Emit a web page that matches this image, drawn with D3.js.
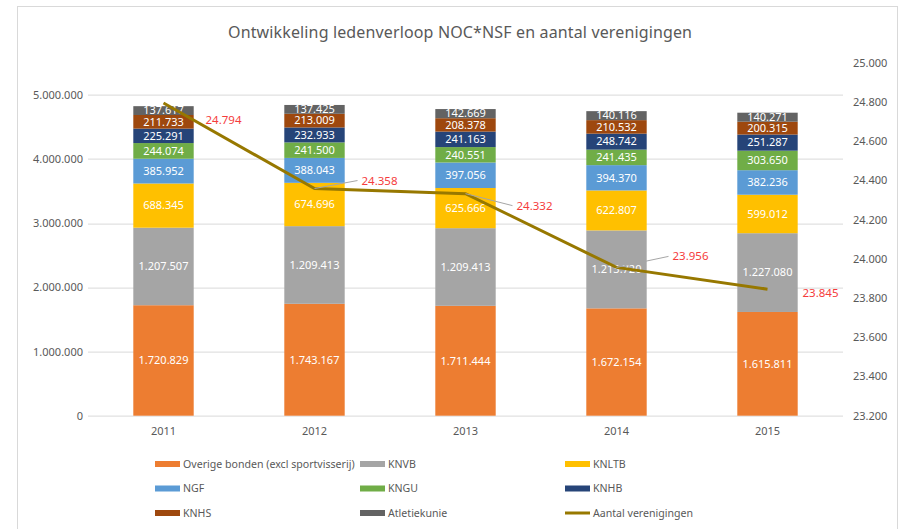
<!DOCTYPE html>
<html>
<head>
<meta charset="utf-8">
<script src="https://cdn.jsdelivr.net/npm/d3@7"></script>
<style>
  body { margin: 0; background: #fff; }
  svg text { font-family: "Noto Sans", "Open Sans", sans-serif; }
</style>
</head>
<body>
<div class="svg-container"></div>
<script>
// Data
const years = ['2011', '2012', '2013', '2014', '2015'];
const seriesNames = ['Overige bonden (excl sportvisserij)', 'KNVB', 'KNLTB', 'NGF', 'KNGU', 'KNHB', 'KNHS', 'Atletiekunie'];
const overige = [1720829, 1743167, 1711444, 1672154, 1615811];
const knvb = [1207507, 1209413, 1209413, 1213720, 1227080];
const knltb = [688345, 674696, 625666, 622807, 599012];
const ngf = [385952, 388043, 397056, 394370, 382236];
const kngu = [244074, 241500, 240551, 241435, 303650];
const knhb = [225291, 232933, 241163, 248742, 251287];
const knhs = [211733, 213009, 208378, 210532, 200315];
const atletiek = [137617, 137425, 142669, 140116, 140271];
const verenigingen = [24794, 24358, 24332, 23956, 23845];
const leftTicks = [0, 1000000, 2000000, 3000000, 4000000, 5000000];
const rightTicks = [23200, 23400, 23600, 23800, 24000, 24200, 24400, 24600, 24800, 25000];

// Styling
const colors = ['#ED7D31', '#A5A5A5', '#FFC000', '#5B9BD5', '#70AD47', '#264478', '#9E480E', '#636363'];
const lineColor = '#977800';
const textColor = '#595959';
// where the red value labels sit relative to their point [dx, dy, leader?]
const labelOffsets = [[42, 17, false], [47, -8, true], [51, 12, true], [56, -11, true], [35, 4, false]];

const nl = d3.formatLocale({decimal: ',', thousands: '.', grouping: [3], currency: ['€', '']});
const fmt = nl.format(',');

const allSeries = [overige, knvb, knltb, ngf, kngu, knhb, knhs, atletiek];
const table = years.map((y, i) => {
    const row = {year: y};
    seriesNames.forEach((s, k) => row[s] = allSeries[k][i]);
    return row;
});

const W = 899, H = 529;
const margin = {top: 62.6, right: 56, bottom: 113.3, left: 88};
const width = W - margin.left - margin.right;
const height = H - margin.top - margin.bottom;

const svg = d3.select('.svg-container').append('svg')
    .attr('width', W).attr('height', H);

// frame
svg.append('rect')
    .attr('x', 17.5).attr('y', 6.5).attr('width', 880).attr('height', 540)
    .attr('fill', 'none').attr('stroke', '#d9d9d9');

svg.append('text')
    .attr('x', 460).attr('y', 38)
    .attr('text-anchor', 'middle')
    .attr('font-size', 16)
    .attr('textLength', 464)
    .attr('fill', textColor)
    .text('Ontwikkeling ledenverloop NOC*NSF en aantal verenigingen');

const g = svg.append('g').attr('transform', `translate(${margin.left},${margin.top})`);

const xScale = d3.scaleBand().domain(years).range([0, width]).paddingInner(0.6).paddingOuter(0.3);
const yLeft = d3.scaleLinear().domain([0, 5500000]).range([height, 0]);
const yRight = d3.scaleLinear().domain([23200, 25000]).range([height, 0]);

// gridlines
g.append('g').selectAll('line').data(leftTicks).join('line')
    .attr('x1', 0).attr('x2', width)
    .attr('y1', d => Math.round(yLeft(d)) + 0.5).attr('y2', d => Math.round(yLeft(d)) + 0.5)
    .attr('stroke', '#d9d9d9');

// left axis
const yAxisL = d3.axisLeft(yLeft).tickValues(leftTicks).tickFormat(fmt).tickSize(0).tickPadding(5);
g.append('g').call(yAxisL)
    .call(a => a.select('.domain').remove())
    .selectAll('text').attr('font-size', 11).attr('fill', textColor);

// right axis
const yAxisR = d3.axisRight(yRight).tickValues(rightTicks).tickFormat(fmt).tickSize(0).tickPadding(10);
g.append('g').attr('transform', `translate(${width},0)`).call(yAxisR)
    .call(a => a.select('.domain').remove())
    .selectAll('text').attr('font-size', 11).attr('fill', textColor);

// x axis
const xAxis = d3.axisBottom(xScale).tickSize(0).tickPadding(12);
g.append('g').attr('transform', `translate(0,${height})`).call(xAxis)
    .call(a => a.select('.domain').remove())
    .selectAll('text').attr('font-size', 11).attr('fill', textColor);

// stacked bars
const stacked = d3.stack().keys(seriesNames)(table);
const layers = g.append('g').selectAll('g').data(stacked).join('g')
    .attr('fill', (d, i) => colors[i]);

layers.selectAll('rect').data(d => d).join('rect')
    .attr('x', d => xScale(d.data.year))
    .attr('y', d => yLeft(d[1]))
    .attr('width', xScale.bandwidth())
    .attr('height', d => yLeft(d[0]) - yLeft(d[1]));

layers.selectAll('text').data(d => d).join('text')
    .attr('x', d => xScale(d.data.year) + xScale.bandwidth() / 2)
    .attr('y', d => (yLeft(d[0]) + yLeft(d[1])) / 2)
    .attr('dy', '0.35em')
    .attr('text-anchor', 'middle')
    .attr('font-size', 11)
    .attr('fill', '#fff')
    .text(d => fmt(d[1] - d[0]));

// line: aantal verenigingen
const cx = i => xScale(years[i]) + xScale.bandwidth() / 2;
const line = d3.line().x((d, i) => cx(i)).y(d => yRight(d));
g.append('path').datum(verenigingen)
    .attr('d', line)
    .attr('fill', 'none')
    .attr('stroke', lineColor)
    .attr('stroke-width', 3);

// leader lines and red labels
verenigingen.forEach((v, i) => {
    const [dx, dy, leader] = labelOffsets[i];
    const px = cx(i), py = yRight(v);
    if (leader) {
        g.append('line')
            .attr('x1', px).attr('y1', py)
            .attr('x2', px + dx - 4).attr('y2', py + dy)
            .attr('stroke', '#a6a6a6').attr('stroke-width', 1);
    }
    g.append('text')
        .attr('x', px + dx).attr('y', py + dy)
        .attr('dy', '0.35em')
        .attr('font-size', 11.5)
        .attr('fill', '#f53c3c')
        .text(fmt(v));
});

// legend
const legendItems = seriesNames.map((s, i) => ({name: s, color: colors[i], type: 'bar'}))
    .concat([{name: 'Aantal verenigingen', color: lineColor, type: 'line'}]);
const colX = [155, 360, 565];
const rowY = [464, 488.5, 513];
const legend = svg.append('g').selectAll('g').data(legendItems).join('g')
    .attr('transform', (d, i) => `translate(${colX[i % 3]},${rowY[Math.floor(i / 3)]})`);

legend.filter(d => d.type === 'bar').append('rect')
    .attr('x', 0).attr('y', -3).attr('width', 25).attr('height', 6)
    .attr('fill', d => d.color);
legend.filter(d => d.type === 'line').append('line')
    .attr('x1', 0).attr('x2', 25).attr('y1', 0).attr('y2', 0)
    .attr('stroke', d => d.color).attr('stroke-width', 3);
legend.append('text')
    .attr('x', 28).attr('y', 0).attr('dy', '0.35em')
    .attr('font-size', 10.6)
    .attr('fill', textColor)
    .text(d => d.name);
</script>
</body>
</html>
